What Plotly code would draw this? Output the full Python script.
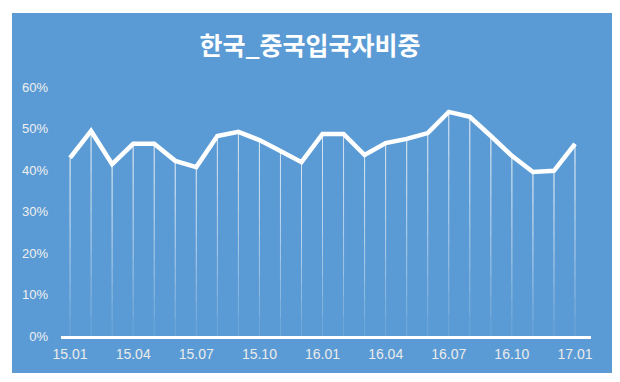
import plotly.graph_objects as go

months = ["15.01","15.02","15.03","15.04","15.05","15.06","15.07","15.08","15.09","15.10","15.11","15.12",
          "16.01","16.02","16.03","16.04","16.05","16.06","16.07","16.08","16.09","16.10","16.11","16.12","17.01"]
share = [0.429, 0.494, 0.414, 0.463, 0.463, 0.422, 0.407, 0.482, 0.492, 0.472, 0.446, 0.419,
         0.487, 0.487, 0.436, 0.465, 0.475, 0.489, 0.540, 0.528, 0.482, 0.434, 0.395, 0.398, 0.463]
tick_every = 3

xs = list(range(len(months)))
tickvals = xs[::tick_every]
ticktext = months[::tick_every]

fig = go.Figure()

# fading drop lines (layered error bars)
layers = 10
for i in range(layers):
    frac = 1.0 - i / layers
    fig.add_trace(go.Scatter(
        x=xs, y=share, mode="markers", marker=dict(size=0.1, color="rgba(0,0,0,0)"),
        error_y=dict(type="data", symmetric=False, array=[0]*len(share),
                     arrayminus=[v*frac for v in share], color="rgba(255,255,255,0.13)",
                     thickness=1, width=0),
        hoverinfo="skip", showlegend=False))

fig.add_trace(go.Scatter(x=xs, y=share, mode="lines",
                         line=dict(color="white", width=4.5), showlegend=False))

fig.add_shape(type="rect", xref="paper", yref="paper",
              x0=(12-61)/530, x1=(612-61)/530, y0=(336-373)/249, y1=(336-13)/249,
              fillcolor="#5B9BD5", line=dict(width=0), layer="below")

fig.update_layout(
    width=620, height=382,
    margin=dict(l=61, r=29, t=87, b=46),
    paper_bgcolor="white", plot_bgcolor="rgba(0,0,0,0)",
    title=dict(text="<b>한국_중국입국자비중</b>", x=(310-61)/530, xref="paper", xanchor="center",
               y=1-46/382, yanchor="middle",
               font=dict(family="Noto Sans CJK KR", size=25, color="white")),
    font=dict(family="Liberation Sans, Arial", color="#F0F0F0"),
)
fig.update_xaxes(range=[-0.43, 24.76], tickvals=tickvals, ticktext=ticktext,
                 showgrid=False, zeroline=False, showline=True, linecolor="white", linewidth=3,
                 ticks="", tickfont=dict(size=14, color="#EBEBEB"), ticklabelstandoff=3)
fig.update_yaxes(range=[0, 0.6], dtick=0.1, tickformat=".0%", showgrid=False, zeroline=False,
                 showline=False, ticks="", tickfont=dict(size=13, color="#F0F0F0"),
                 ticklabelstandoff=12)

fig.write_html("out.html", config={"displayModeBar": False},
               post_script="document.body.style.margin='0';document.body.style.overflow='hidden';")
